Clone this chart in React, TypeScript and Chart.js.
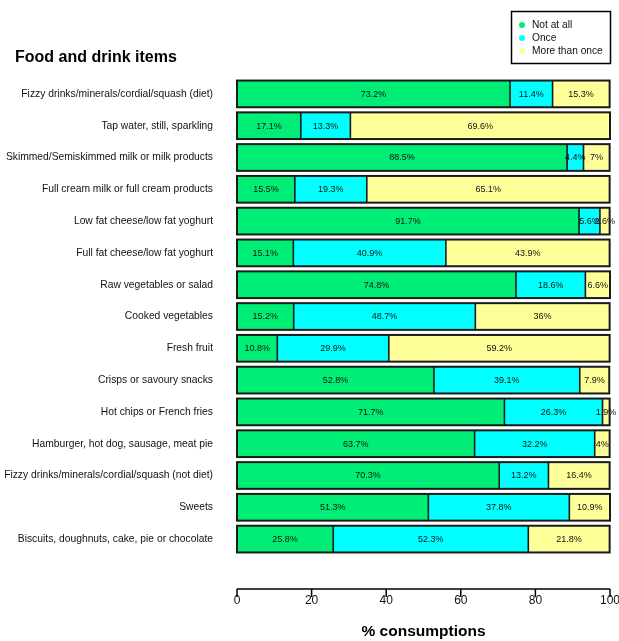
import React, { useEffect, useRef } from "react";
import { Chart, registerables } from "chart.js";

Chart.register(...registerables);

const categories = [
  "Fizzy drinks/minerals/cordial/squash (diet)",
  "Tap water, still, sparkling",
  "Skimmed/Semiskimmed milk or milk products",
  "Full cream milk or full cream products",
  "Low fat cheese/low fat yoghurt",
  "Full fat cheese/low fat yoghurt",
  "Raw vegetables or salad",
  "Cooked vegetables",
  "Fresh fruit",
  "Crisps or savoury snacks",
  "Hot chips or French fries",
  "Hamburger, hot dog, sausage, meat pie",
  "Fizzy drinks/minerals/cordial/squash (not diet)",
  "Sweets",
  "Biscuits, doughnuts, cake, pie or chocolate",
];

const notAtAll = [73.2, 17.1, 88.5, 15.5, 91.7, 15.1, 74.8, 15.2, 10.8, 52.8, 71.7, 63.7, 70.3, 51.3, 25.8];
const once = [11.4, 13.3, 4.4, 19.3, 5.6, 40.9, 18.6, 48.7, 29.9, 39.1, 26.3, 32.2, 13.2, 37.8, 52.3];
const moreThanOnce = [15.3, 69.6, 7, 65.1, 2.6, 43.9, 6.6, 36, 59.2, 7.9, 1.9, 4, 16.4, 10.9, 21.8];

const seriesNames = ["Not at all", "Once", "More than once"];
const seriesColors = ["#00EE76", "#00FFFF", "#FFFF99"];
const xTicks = [0, 20, 40, 60, 80, 100];
const chartTitle = "Food and drink items";
const xAxisTitle = "% consumptions";

const FONT = '"Liberation Sans", Arial, sans-serif';

const overlayPlugin = {
  id: "overlay",
  afterDatasetsDraw(chart: any) {
    const ctx = chart.ctx;
    ctx.save();
    const n = chart.data.datasets.length;
    const first = chart.getDatasetMeta(0);
    const last = chart.getDatasetMeta(n - 1);
    ctx.strokeStyle = "#1a1a1a";
    // separators between segments
    ctx.lineWidth = 1.6;
    for (let di = 0; di < n - 1; di++) {
      const meta = chart.getDatasetMeta(di);
      meta.data.forEach((bar: any) => {
        const h = bar.height;
        ctx.beginPath();
        ctx.moveTo(bar.x, bar.y - h / 2);
        ctx.lineTo(bar.x, bar.y + h / 2);
        ctx.stroke();
      });
    }
    // outline of each stacked bar
    ctx.lineWidth = 2;
    first.data.forEach((bar: any, i: number) => {
      const endBar = last.data[i];
      const h = bar.height;
      const x0 = bar.base;
      const x1 = endBar.x;
      ctx.strokeRect(x0, bar.y - h / 2, x1 - x0, h);
    });
    // data labels
    ctx.fillStyle = "#111";
    ctx.font = `9px ${FONT}`;
    ctx.textAlign = "center";
    ctx.textBaseline = "middle";
    chart.data.datasets.forEach((ds: any, di: number) => {
      const meta = chart.getDatasetMeta(di);
      meta.data.forEach((bar: any, i: number) => {
        const v = ds.data[i];
        const cx = (bar.x + bar.base) / 2;
        ctx.fillText(`${v}%`, cx, bar.y + 0.5);
      });
    });
    ctx.restore();
  },
  afterDraw(chart: any) {
    const ctx = chart.ctx;
    const xs = chart.scales.x;
    const area = chart.chartArea;
    ctx.save();
    // title
    ctx.fillStyle = "#000";
    ctx.font = `bold 16px ${FONT}`;
    ctx.textAlign = "left";
    ctx.textBaseline = "alphabetic";
    ctx.fillText(chartTitle, 15, 62);

    // legend
    ctx.strokeStyle = "#000";
    ctx.lineWidth = 1.5;
    ctx.strokeRect(511.5, 11.5, 99, 52);
    ctx.font = `10.2px ${FONT}`;
    ctx.textBaseline = "middle";
    const rows = [25, 38, 51];
    seriesNames.forEach((name, i) => {
      ctx.fillStyle = seriesColors[i];
      ctx.beginPath();
      ctx.arc(522, rows[i], 3, 0, Math.PI * 2);
      ctx.fill();
      ctx.fillStyle = "#111";
      ctx.fillText(name, 532, rows[i]);
    });

    // x axis
    const axisY = 589;
    ctx.strokeStyle = "#000";
    ctx.lineWidth = 1.5;
    ctx.beginPath();
    ctx.moveTo(xs.getPixelForValue(xTicks[0]), axisY);
    ctx.lineTo(xs.getPixelForValue(xTicks[xTicks.length - 1]), axisY);
    ctx.stroke();
    ctx.font = `12px ${FONT}`;
    ctx.textAlign = "center";
    ctx.textBaseline = "top";
    ctx.fillStyle = "#111";
    xTicks.forEach((t) => {
      const px = xs.getPixelForValue(t);
      ctx.beginPath();
      ctx.moveTo(px, axisY);
      ctx.lineTo(px, axisY + 8);
      ctx.stroke();
      ctx.fillText(String(t), px, 595);
    });

    // x axis title
    ctx.fillStyle = "#000";
    ctx.font = `bold 15.5px ${FONT}`;
    ctx.textBaseline = "middle";
    ctx.fillText(xAxisTitle, (area.left + area.right) / 2, 632);
    ctx.restore();
  },
};

export default function App() {
  const ref = useRef<HTMLCanvasElement | null>(null);
  useEffect(() => {
    if (!ref.current) return;
    const values = [notAtAll, once, moreThanOnce];
    const chart = new Chart(ref.current, {
      type: "bar",
      data: {
        labels: categories,
        datasets: values.map((d, i) => ({
          label: seriesNames[i],
          data: d,
          backgroundColor: seriesColors[i],
          borderColor: "#1a1a1a",
          borderWidth: 0,
          borderSkipped: false,
          barPercentage: 0.84,
          categoryPercentage: 1,
          inflateAmount: 0,
        })),
      },
      options: {
        indexAxis: "y",
        responsive: false,
        animation: false,
        layout: { padding: { left: 0, right: 9, top: 78, bottom: 86 } },
        scales: {
          x: { display: false, stacked: true, min: 0, max: 100 },
          y: {
            stacked: true,
            grid: { display: false, drawTicks: false },
            border: { display: false },
            ticks: { color: "#111", font: { family: FONT, size: 10.3 }, padding: 24 },
            afterFit: (scale: any) => {
              scale.width = 237;
            },
          },
        },
        plugins: {
          legend: { display: false },
          title: { display: false },
          tooltip: { enabled: false },
        },
      } as any,
      plugins: [overlayPlugin],
    });
    return () => chart.destroy();
  }, []);
  return (
    <div style={{ position: "absolute", left: 0, top: 0, width: 619, height: 641, background: "#fff" }}>
      <canvas ref={ref} width={619} height={641} style={{ display: "block" }} />
    </div>
  );
}
